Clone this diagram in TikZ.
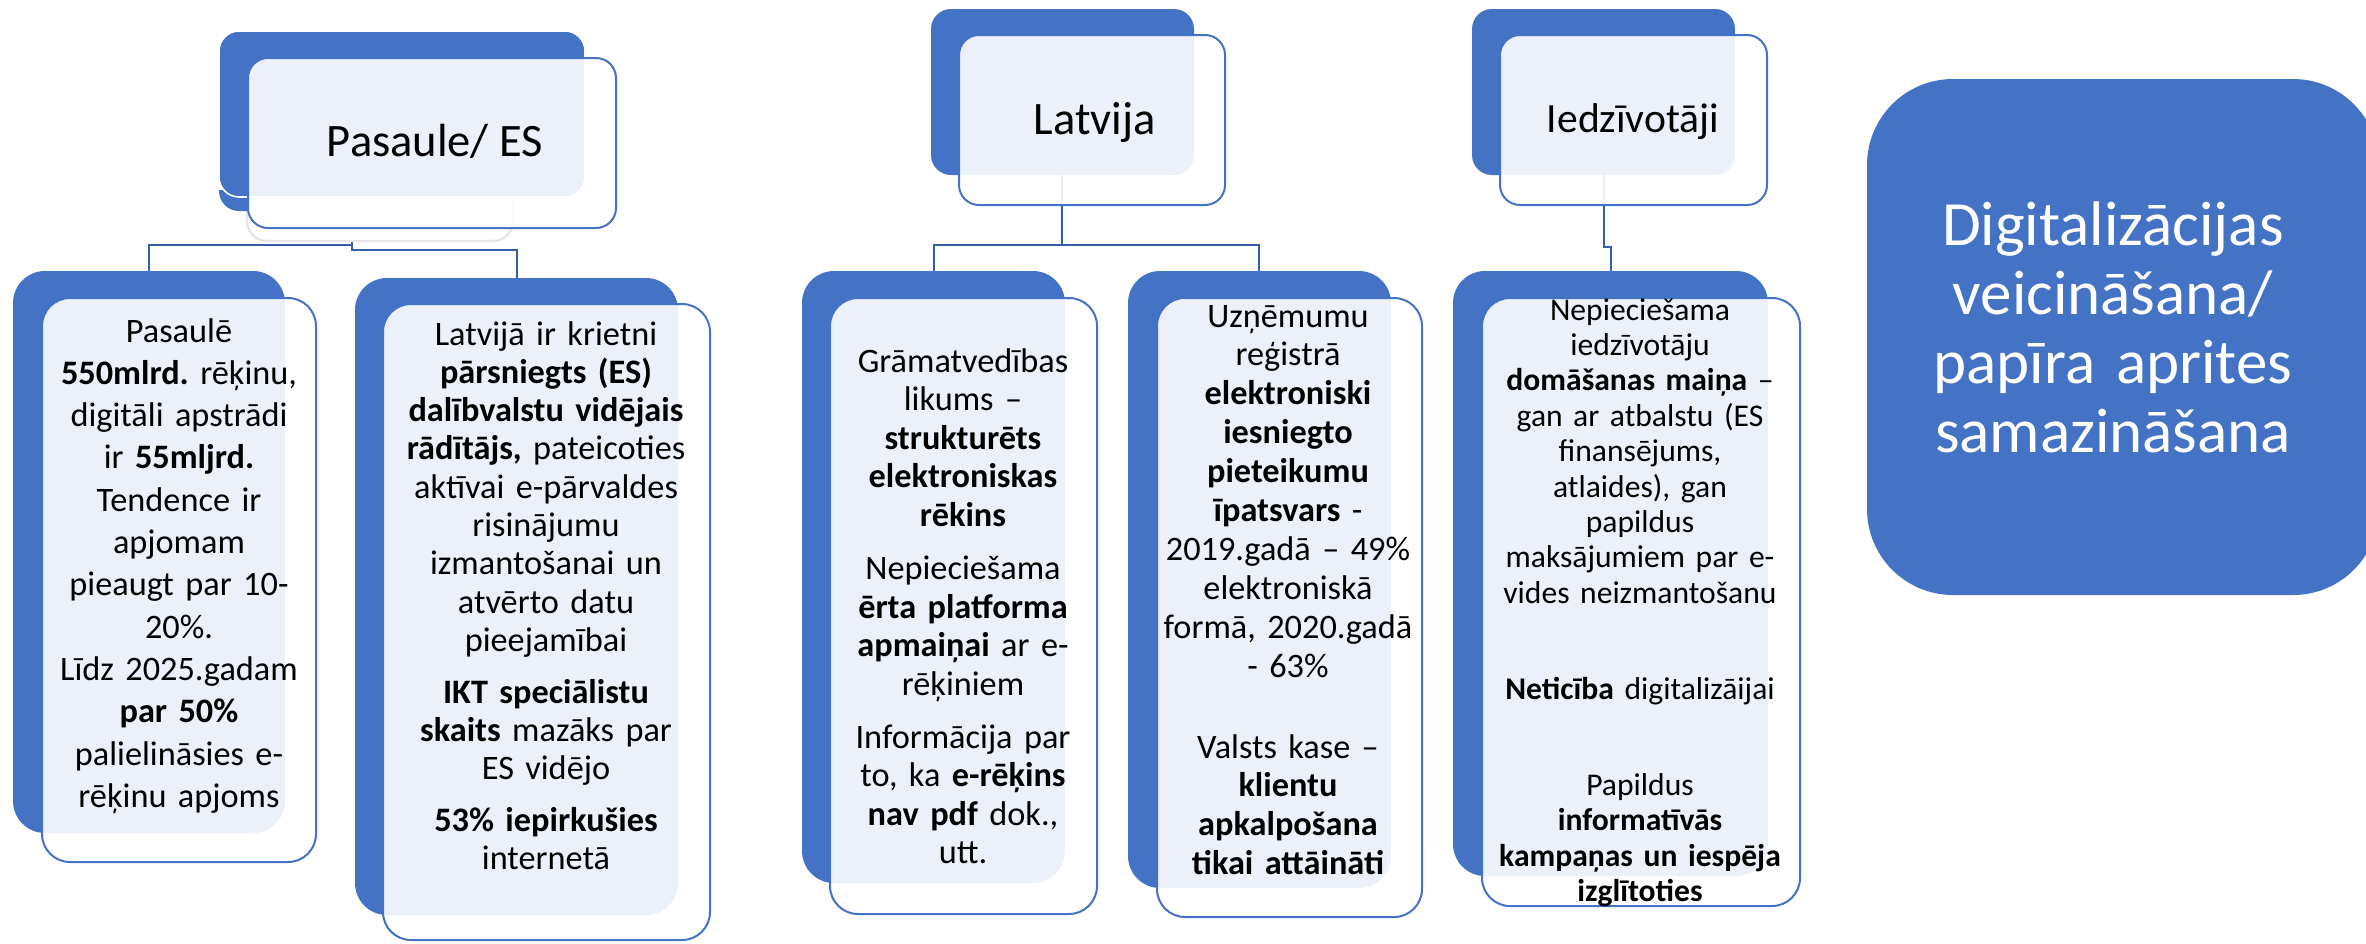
\documentclass[tikz,border=0pt]{standalone}
\usepackage{fontspec}
\setmainfont{Carlito}
\usetikzlibrary{fit}
\definecolor{myblue}{HTML}{4472C4}
\definecolor{connblue}{HTML}{3560A8}
\definecolor{lightgrey}{HTML}{E6E6E6}
\tikzset{
  bluebox/.style={fill=myblue, draw=none, rounded corners=#1, inner sep=0pt, outer sep=0pt},
  frontbox/.style={draw=myblue, line width=1pt, fill=white, fill opacity=0.9, rounded corners=#1, inner sep=0pt, outer sep=0pt},
  conn/.style={draw=connblue, line width=1.25pt},
  hdr/.style={anchor=base, inner sep=0pt, text=black},
  body/.style={anchor=base, inner sep=0pt, text width=200pt, align=center, text=black},
}
\begin{document}
\frenchspacing
\begin{tikzpicture}[x=0.5pt,y=-0.5pt]
\useasboundingbox (0,0) rectangle (2366,943);
\clip (0,0) rectangle (2366,943);

% ---------- header 1: Pasaule/ ES ----------
\node[draw=lightgrey, line width=1.2pt, rounded corners=10pt, inner sep=0pt, fit={(247,80) (513,241)}] (h1g) {};
\begin{scope}
  \clip (200,190) rectangle (248,230);
  \node[bluebox=10pt, fit={(219,45) (585,211)}] (h1s) {};
\end{scope}
\node[bluebox=10pt, draw=white, line width=0.8pt, fit={(219,31) (585,197)}] (h1b) {};

% ---------- header 2: Latvija ----------
\node[bluebox=10pt, fit={(931,9) (1194,175)}] (h2b) {};
% ---------- header 3: Iedzivotaji ----------
\node[bluebox=10pt, fit={(1472,9) (1735,175)}] (h3b) {};

% ---------- children blue backs ----------
\node[bluebox=16pt, fit={(13,271) (285,833)}] (c1b) {};
\node[bluebox=16pt, fit={(355,278) (678,915)}] (c2b) {};
\node[bluebox=16pt, fit={(802,271) (1065,883)}] (c3b) {};
\node[bluebox=16pt, fit={(1128,271) (1391,888)}] (c4b) {};
\node[bluebox=16pt, fit={(1453,271) (1768,876)}] (c5b) {};

% ---------- big right box ----------
\node[bluebox=43pt, fit={(1867,79) (2379,595)}] (big) {};

% ---------- connectors ----------
\draw[conn] (h1g.south -| 352,0) -- (352,245) -| (c1b.north -| 149,0);
\draw[conn] (h1g.south -| 352,0) -- (352,250) -| (c2b.north -| 517,0);
\draw[conn] (h2b.south -| 1062,0) -- (1062,245) -| (c3b.north -| 934,0);
\draw[conn] (1062,245) -| (c4b.north -| 1259,0);
\draw[conn] (h3b.south -| 1604,0) -- (1604,247) -- (1611,247) -- (c5b.north -| 1611,0);

% ---------- front boxes ----------
\node[frontbox=10pt, fit={(248,58) (616,228)}] (h1f) {};
\node[frontbox=10pt, fit={(959,35) (1225,205)}] (h2f) {};
\node[frontbox=10pt, fit={(1500,35) (1767,205)}] (h3f) {};
\node[frontbox=14pt, fit={(42,298) (316,862)}] (c1f) {};
\node[frontbox=14pt, fit={(383,304) (710,940)}] (c2f) {};
\node[frontbox=14pt, fit={(830,298) (1097,914)}] (c3f) {};
\node[frontbox=14pt, fit={(1157,298) (1422,917)}] (c4f) {};
\node[frontbox=14pt, fit={(1482,298) (1800,906)}] (c5f) {};

% ---------- header texts ----------
\node[hdr, font=\fontsize{23.25pt}{28pt}\selectfont] (h1t) at (435,156) {Pasaule/ ES};
\node[hdr, font=\fontsize{23.25pt}{28pt}\selectfont] (h2t) at (1095,134) {Latvija};
\node[hdr, font=\fontsize{20.8pt}{25pt}\selectfont] (h3t) at (1633,132) {Iedzīvotāji};

% ---------- body texts ----------
\node[body, font=\fontsize{17.15pt}{21.15pt}\selectfont] (t1) at (179,342) {Pasaulē\\
\textbf{550mlrd.} rēķinu,\\
digitāli apstrādi\\
ir \textbf{55mljrd.}\\
Tendence ir\\
apjomam\\
pieaugt par 10-\\
20\%.\\
Līdz 2025.gadam\\
\textbf{par 50\%}\\
palielināsies e-\\
rēķinu apjoms};

\node[body, font=\fontsize{17.15pt}{19.15pt}\selectfont] (t2) at (546,345) {Latvijā ir krietni\\
\textbf{pārsniegts (ES)}\\
\textbf{dalībvalstu vidējais}\\
\textbf{rādītājs,} pateicoties\\
aktīvai e-pārvaldes\\
risinājumu\\
izmantošanai un\\
atvērto datu\\
pieejamībai\\[6.75pt]
\textbf{IKT speciālistu}\\
\textbf{skaits} mazāks par\\
ES vidējo\\[6.75pt]
\textbf{53\% iepirkušies}\\
internetā};

\node[body, font=\fontsize{17.15pt}{19.25pt}\selectfont] (t3) at (963,372) {Grāmatvedības\\
likums –\\
\textbf{strukturēts}\\
\textbf{elektroniskas}\\
\textbf{rēkins}\\[7.5pt]
Nepieciešama\\
\textbf{ērta platforma}\\
\textbf{apmaiņai} ar e-\\
rēķiniem\\[7.25pt]
Informācija par\\
to, ka \textbf{e-rēķins}\\
\textbf{nav pdf} dok.,\\
utt.};

\node[body, font=\fontsize{17.15pt}{19.45pt}\selectfont] (t4) at (1288,327) {Uzņēmumu\\
reģistrā\\
\textbf{elektroniski}\\
\textbf{iesniegto}\\
\textbf{pieteikumu}\\
\textbf{īpatsvars} -\\
2019.gadā – 49\%\\
elektroniskā\\
formā, 2020.gadā\\
- 63\%\\[21pt]
Valsts kase –\\
\textbf{klientu}\\
\textbf{apkalpošana}\\
\textbf{tikai attāināti}};

\node[body, font=\fontsize{15.8pt}{17.7pt}\selectfont] (t5) at (1640,320) {Nepieciešama\\
iedzīvotāju\\
\textbf{domāšanas maiņa} –\\
gan ar atbalstu (ES\\
finansējums,\\
atlaides), gan\\
papildus\\
maksājumiem par e-\\
vides neizmantošanu\\[30.3pt]
\textbf{Neticība} digitalizāijai\\[30.3pt]
Papildus\\
\textbf{informatīvās}\\
\textbf{kampaņas un iespēja}\\
\textbf{izglītoties}};

\node[body, text width=240pt, text=white, font=\fontsize{31.5pt}{34.5pt}\selectfont] (bigt) at (2113,245) {Digitalizācijas\\
veicināšana/\\
papīra aprites\\
samazināšana};

\end{tikzpicture}
\end{document}
